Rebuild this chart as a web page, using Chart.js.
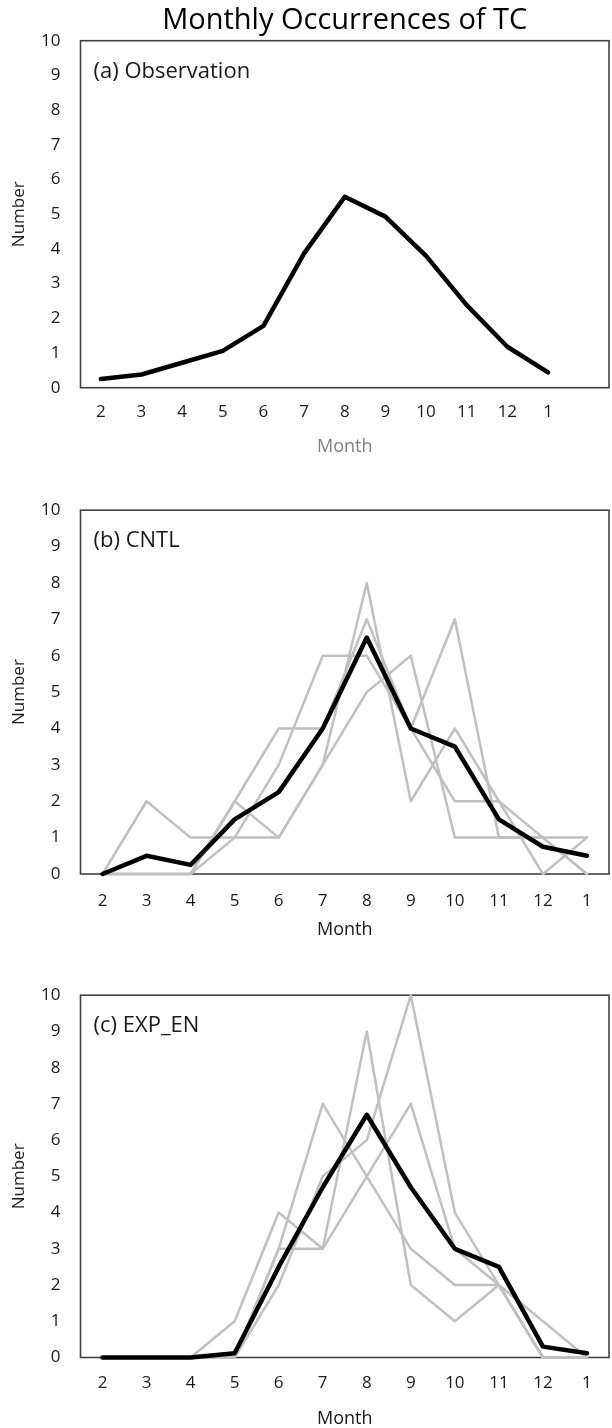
<!DOCTYPE html>
<html>
<head>
<meta charset="utf-8">
<script src="https://cdn.jsdelivr.net/npm/chart.js@4/dist/chart.umd.min.js"></script>
<style>
  html, body { margin: 0; padding: 0; background: #fff; }
  body { width: 612px; height: 1428px; position: relative; overflow: hidden; }
  canvas { position: absolute; left: 0; }
</style>
</head>
<body>
<canvas id="chartA" width="612" height="470" style="top:0"></canvas>
<canvas id="chartB" width="612" height="480" style="top:480px"></canvas>
<canvas id="chartC" width="612" height="463" style="top:965px"></canvas>
<script>
// Month order runs Feb..Jan
const months = ["2", "3", "4", "5", "6", "7", "8", "9", "10", "11", "12", "1"]
const numberTicks = [0, 1, 2, 3, 4, 5, 6, 7, 8, 9, 10]

// (a) Observation
const obsMean = [0.25, 0.38, 0.72, 1.06, 1.78, 3.87, 5.5, 4.93, 3.8, 2.38, 1.18, 0.44]

// (b) CNTL: ensemble mean + members
const cntlMean = [0, 0.5, 0.25, 1.5, 2.25, 4, 6.5, 4, 3.5, 1.5, 0.75, 0.5]
const cntlRun1 = [0, 2, 1, 1, 1, 3, 8, 2, 4, 2, 0, 1]
const cntlRun2 = [0, 0, 0, 2, 4, 4, 7, 4, 2, 2, 1, 0]
const cntlRun3 = [0, 0, 0, 2, 1, 3, 5, 6, 1, 1, 1, 1]
const cntlRun4 = [0, 0, 0, 1, 3, 6, 6, 4, 7, 1, 1, 0]

// (c) EXP_EN: ensemble mean + members
const expMean = [0, 0, 0, 0.12, 2.5, 4.7, 6.7, 4.7, 3.0, 2.5, 0.3, 0.12]
const expRun1 = [0, 0, 0, 1, 4, 3, 9, 2, 1, 2, 0, 0]
const expRun2 = [0, 0, 0, 0, 3, 3, 5, 7, 3, 2, 0, 0]
const expRun3 = [0, 0, 0, 0, 3, 7, 5, 3, 2, 2, 0, 0]
const expRun4 = [0, 0, 0, 0, 2, 5, 6, 10, 4, 2, 1, 0]

const FONT = "'Open Sans', 'Noto Sans', sans-serif"
const TEXT = "#1a1a1a"

// box around the plot area, and the panel tag in its top-left corner
const frameAndTag = {
  id: "frameAndTag",
  beforeDatasetsDraw(chart) {
    const { ctx, chartArea: a } = chart
    ctx.save()
    ctx.strokeStyle = "#404040"
    ctx.lineWidth = 1.6
    ctx.strokeRect(a.left, a.top, a.right - a.left, a.bottom - a.top)
    ctx.restore()
  },
  afterDraw(chart, args, opts) {
    const { ctx, chartArea: a } = chart
    ctx.save()
    ctx.fillStyle = TEXT
    ctx.font = "22px " + FONT
    ctx.textAlign = "left"
    ctx.textBaseline = "middle"
    ctx.fillText(opts.text, a.left + 13, a.top + 31)
    ctx.restore()
  },
}

function panelChart(id, opts) {
  const datasets = [{ data: opts.mean, borderColor: "#000000", borderWidth: 4.5 }]
    .concat(opts.runs.map((r) => ({ data: r, borderColor: "#c0c0c0", borderWidth: 2.5 })))
    .map((ds) =>
      Object.assign(ds, {
        pointRadius: 0,
        tension: 0,
        fill: false,
        clip: false,
        borderJoinStyle: "round",
        borderCapStyle: "round",
      })
    )

  return new Chart(document.getElementById(id), {
    type: "line",
    data: { labels: opts.labels, datasets: datasets },
    options: {
      responsive: false,
      animation: false,
      events: [],
      layout: { padding: { top: opts.padTop, right: 3, left: 0, bottom: 0 } },
      plugins: {
        legend: { display: false },
        tooltip: { enabled: false },
        title: opts.title || { display: false },
        frameAndTag: { text: opts.tag },
      },
      scales: {
        x: {
          type: "category",
          offset: true,
          grid: { display: false, drawTicks: false },
          border: { display: false },
          ticks: {
            padding: opts.tickPad,
            color: TEXT,
            autoSkip: false,
            maxRotation: 0,
            font: { family: FONT, size: 17 },
          },
          title: {
            display: true,
            text: "Month",
            color: opts.monthColor,
            font: { family: FONT, size: 18, lineHeight: 1 },
            padding: { top: 0, bottom: opts.monthPad },
          },
          afterFit: (s) => {
            s.height = opts.xHeight
          },
        },
        y: {
          min: 0,
          max: 10,
          grid: { display: false, drawTicks: false },
          border: { display: false },
          afterBuildTicks: (s) => {
            s.ticks = numberTicks.map((v) => ({ value: v }))
          },
          ticks: { padding: 20, color: TEXT, font: { family: FONT, size: 17 } },
          title: {
            display: true,
            text: "Number",
            color: TEXT,
            font: { family: FONT, size: 17, lineHeight: 1 },
            padding: { top: 11, bottom: 0 },
          },
          afterFit: (s) => {
            s.width = 80.5
          },
        },
      },
    },
    plugins: [frameAndTag],
  })
}

panelChart("chartA", {
  labels: months.concat([""]),
  mean: obsMean,
  runs: [],
  tag: "(a) Observation",
  padTop: 0,
  title: {
    display: true,
    text: "Monthly Occurrences of TC",
    fullSize: false,
    color: "#000000",
    font: { family: FONT, size: 29, weight: "normal", lineHeight: 1.2 },
    padding: { top: 3, bottom: 2.9 },
  },
  tickPad: 14,
  xHeight: 82.3,
  monthPad: 14,
  monthColor: "#7f7f7f",
})

panelChart("chartB", {
  labels: months,
  mean: cntlMean,
  runs: [cntlRun1, cntlRun2, cntlRun3, cntlRun4],
  tag: "(b) CNTL",
  padTop: 23,
  tickPad: 17,
  xHeight: 86,
  monthPad: 21,
  monthColor: TEXT,
})

panelChart("chartC", {
  labels: months,
  mean: expMean,
  runs: [expRun1, expRun2, expRun3, expRun4],
  tag: "(c) EXP_EN",
  padTop: 29,
  tickPad: 15,
  xHeight: 70.5,
  monthPad: 0,
  monthColor: TEXT,
})
</script>
</body>
</html>
